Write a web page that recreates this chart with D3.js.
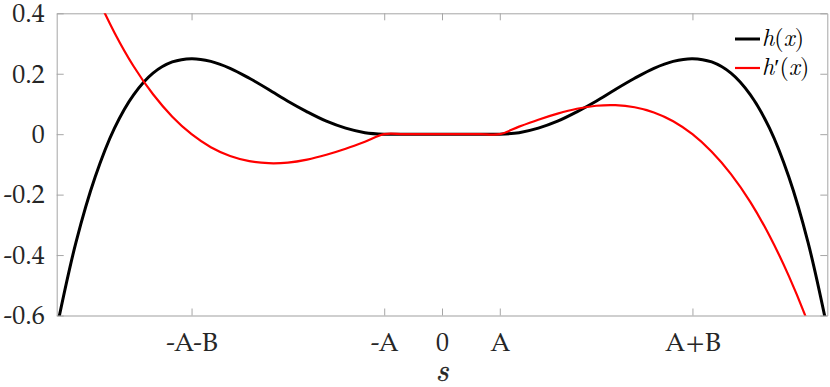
<!DOCTYPE html>
<html>
<head>
<meta charset="utf-8">
<script src="https://cdn.jsdelivr.net/npm/d3@7"></script>
<style>
  html, body { margin: 0; padding: 0; background: #fff; }
  svg { display: block; }
</style>
</head>
<body>
<svg id="chart" width="830" height="387"></svg>
<script>
// ---- data ----
const xs = [-2.0,-1.9,-1.8,-1.7,-1.6,-1.5,-1.4,-1.3,-1.2,-1.1,-1.0,-0.9,-0.8,-0.7,-0.6,-0.5,-0.4,-0.3,-0.2,-0.1,
             0.0, 0.1, 0.2, 0.3, 0.4, 0.5, 0.6, 0.7, 0.8, 0.9, 1.0, 1.1, 1.2, 1.3, 1.4, 1.5, 1.6, 1.7, 1.8, 1.9, 2.0];
const hValues = [-0.643,-0.358,-0.141,0.020,0.131,0.202,0.239,0.250,0.241,0.218,0.185,0.148,0.109,0.074,0.043,0.020,0.005,0,0,0,
                  0, 0, 0, 0, 0.005,0.020,0.043,0.074,0.109,0.148,0.185,0.218,0.241,0.250,0.239,0.202,0.131,0.020,-0.141,-0.358,-0.643];
const dhValues = [0.803,0.624,0.469,0.336,0.224,0.132,0.058,0,-0.043,-0.072,-0.089,-0.096,-0.094,-0.084,-0.068,-0.048,-0.025,0,0,0,
                  0, 0, 0, 0, 0.025,0.048,0.068,0.084,0.094,0.096,0.089,0.072,0.043,0,-0.058,-0.132,-0.224,-0.336,-0.469,-0.624,-0.803];
const seriesNames = ["h", "h'"];
const xTickValues = [-1.3, -0.3, 0, 0.3, 1.3];
const xTickLabels = ["-A-B", "-A", "0", "A", "A+B"];
const yTickValues = [-0.6, -0.4, -0.2, 0, 0.2, 0.4];
const yTickLabels = ["-0.6", "-0.4", "-0.2", "0", "0.2", "0.4"];
const xDomain = [-2, 2];
const yDomain = [-0.6, 0.4];

// ---- layout ----
const svg = d3.select("#chart");
const L = 56.7, R = 827.3, T = 13.3, B = 315.5;
const x = d3.scaleLinear().domain(xDomain).range([L, R]);
const y = d3.scaleLinear().domain(yDomain).range([B, T]);
const tickFont = "TeX Gyre Pagella";
const mathFont = "Latin Modern Roman";
const tickColor = "#a6a6a6";
const labelColor = "#262626";

// clip
svg.append("defs").append("clipPath").attr("id", "clip")
  .append("rect").attr("x", L).attr("y", T).attr("width", R - L).attr("height", B - T);

// axes
function styleAxis(g) {
  g.attr("font-family", tickFont).attr("font-size", 26);
  g.selectAll(".domain").attr("stroke", tickColor).attr("stroke-width", 1);
  g.selectAll(".tick line").attr("stroke", tickColor).attr("stroke-width", 1);
  g.selectAll("text").attr("fill", labelColor).attr("font-family", tickFont).attr("font-size", 26);
}
const xAxis = d3.axisBottom(x).tickValues(xTickValues)
  .tickFormat((d, i) => xTickLabels[i]).tickSizeInner(-7).tickSizeOuter(0).tickPadding(17);
const gx = svg.append("g").attr("transform", `translate(0,${B})`).call(xAxis).call(styleAxis);
gx.select(".domain").attr("stroke", "#cfcfcf").attr("stroke-width", 2);

const xTop = d3.axisTop(x).tickValues(xTickValues).tickFormat("").tickSizeInner(-7).tickSizeOuter(0);
svg.append("g").attr("transform", `translate(0,${T})`).call(xTop).call(styleAxis);

const yAxis = d3.axisLeft(y).tickValues(yTickValues)
  .tickFormat((d, i) => yTickLabels[i]).tickSizeInner(-7).tickSizeOuter(0).tickPadding(12);
svg.append("g").attr("transform", `translate(${L},0)`).call(yAxis).call(styleAxis);

const yRight = d3.axisRight(y).tickValues(yTickValues).tickFormat("").tickSizeInner(-7).tickSizeOuter(0);
svg.append("g").attr("transform", `translate(${R},0)`).call(yRight).call(styleAxis);

// x label
svg.append("text").attr("x", x(0)).attr("y", 381).attr("text-anchor", "middle")
  .attr("font-family", mathFont).attr("font-style", "italic").attr("font-size", 31)
  .attr("fill", labelColor).attr("stroke", labelColor).attr("stroke-width", 0.4).text("s");

// curves
const pts = (vals) => xs.map((v, i) => [v, vals[i]]);
const line = d3.line().x(d => x(d[0])).y(d => y(d[1])).curve(d3.curveCatmullRom.alpha(0.5));
const plot = svg.append("g").attr("clip-path", "url(#clip)");
plot.append("path").attr("d", line(pts(hValues))).attr("fill", "none")
  .attr("stroke", "#000").attr("stroke-width", 3);
plot.append("path").attr("d", line(pts(dhValues))).attr("fill", "none")
  .attr("stroke", "#ff0000").attr("stroke-width", 2.2);

// legend
const legend = svg.append("g");
const legendItems = [
  { name: seriesNames[0], color: "#000", width: 3, y: 39 },
  { name: seriesNames[1], color: "#ff0000", width: 2.2, y: 68 }
];
legendItems.forEach(it => {
  legend.append("line").attr("x1", 735).attr("x2", 760).attr("y1", it.y).attr("y2", it.y)
    .attr("stroke", it.color).attr("stroke-width", it.width);
  const t = legend.append("text").attr("x", 762).attr("y", it.y + 7)
    .attr("font-family", mathFont).attr("font-size", 24).attr("fill", "#000");
  t.append("tspan").attr("font-style", "italic").text("h");
  if (it.name === "h'") t.append("tspan").text("\u2032");
  t.append("tspan").text("(");
  t.append("tspan").attr("font-style", "italic").text("x");
  t.append("tspan").text(")");
});
</script>
</body>
</html>
